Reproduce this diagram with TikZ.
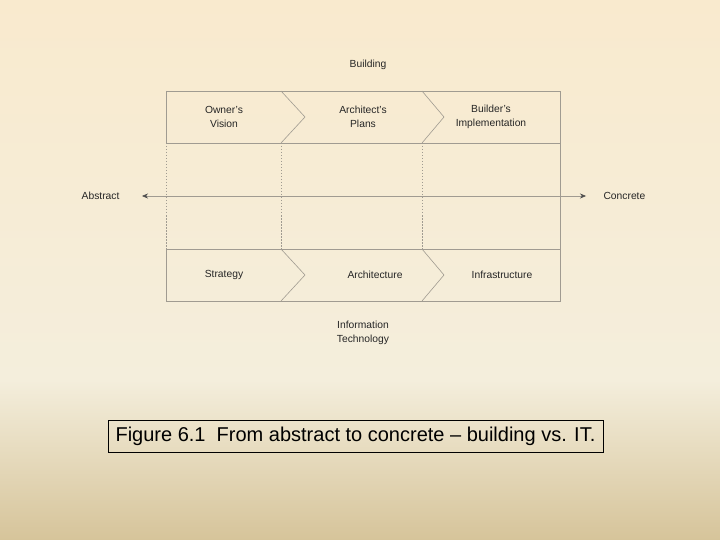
\documentclass[tikz,border=0pt]{standalone}
\usepackage{fontspec}
\setmainfont{Liberation Sans}
\usetikzlibrary{arrows.meta}
\definecolor{ln}{RGB}{160,155,145}
\definecolor{bgtop}{RGB}{249,234,206}
\definecolor{bgmid}{RGB}{244,238,220}
\definecolor{bgbot}{RGB}{214,196,154}
\tikzset{lbl/.style={font=\fontsize{10.3}{14}\selectfont,align=center,text=black!85},
 chev/.style={draw=ln,line width=0.6pt},
 dsh/.style={draw=ln,dashed,dash pattern=on 1.5pt off 1.5pt,line width=0.5pt}}
\begin{document}
\begin{tikzpicture}[x=1pt,y=-1pt]
\useasboundingbox (0,0) rectangle (720,540);
\shade[top color=bgtop,bottom color=bgmid] (0,0) rectangle (720,380);
\shade[top color=bgmid,bottom color=bgbot] (0,380) rectangle (720,540);
\draw[chev] (166,91) -- (560,91) -- (560,301) -- (166,301);
\draw[chev] (166,91) -- (166,143);
\draw[chev] (166,249) -- (166,301);
\draw[chev] (166,143) -- (560,143);
\draw[chev] (166,249) -- (560,249);
\draw[chev] (281,91) -- (305,117) -- (281,143);
\draw[chev] (422,91) -- (444,117) -- (422,143);
\draw[chev] (281,249) -- (305,275) -- (281,301);
\draw[chev] (422,249) -- (444,275) -- (422,301);
\draw[dsh] (166,143) -- (166,249);
\draw[dsh] (281,143) -- (281,249);
\draw[dsh] (422,143) -- (422,249);
\node[lbl] (ov) at (224,117) {Owner’s\\Vision};
\node[lbl] (ap) at (363,117) {Architect’s\\Plans};
\node[lbl] (bi) at (491,117) {Builder’s\\Implementation};
\node[lbl] (st) at (224,275) {Strategy};
\node[lbl] (ar) at (375,275) {Architecture};
\node[lbl] (in) at (502,275) {Infrastructure};
\node[lbl] (b) at (368,65) {Building};
\node[lbl] (it) at (363,333) {Information\\Technology};
\node[lbl,anchor=east] (abs) at (123,196) {Abstract};
\node[lbl,anchor=west] (con) at (600,196) {Concrete};
\coordinate (l) at (142,196);
\coordinate (r) at (586,196);
\draw[ln,line width=0.6pt,{Stealth[length=6pt,width=5pt,color=black!70]}-{Stealth[length=6pt,width=5pt,color=black!70]}] (l) -- (r);
\node[draw=black,line width=0.6pt,minimum width=495pt,minimum height=32pt,font=\fontsize{20}{22}\selectfont] (cap) at (355.5,436) {Figure 6.1\ \ From abstract to concrete – building vs. IT.};
\end{tikzpicture}
\end{document}
